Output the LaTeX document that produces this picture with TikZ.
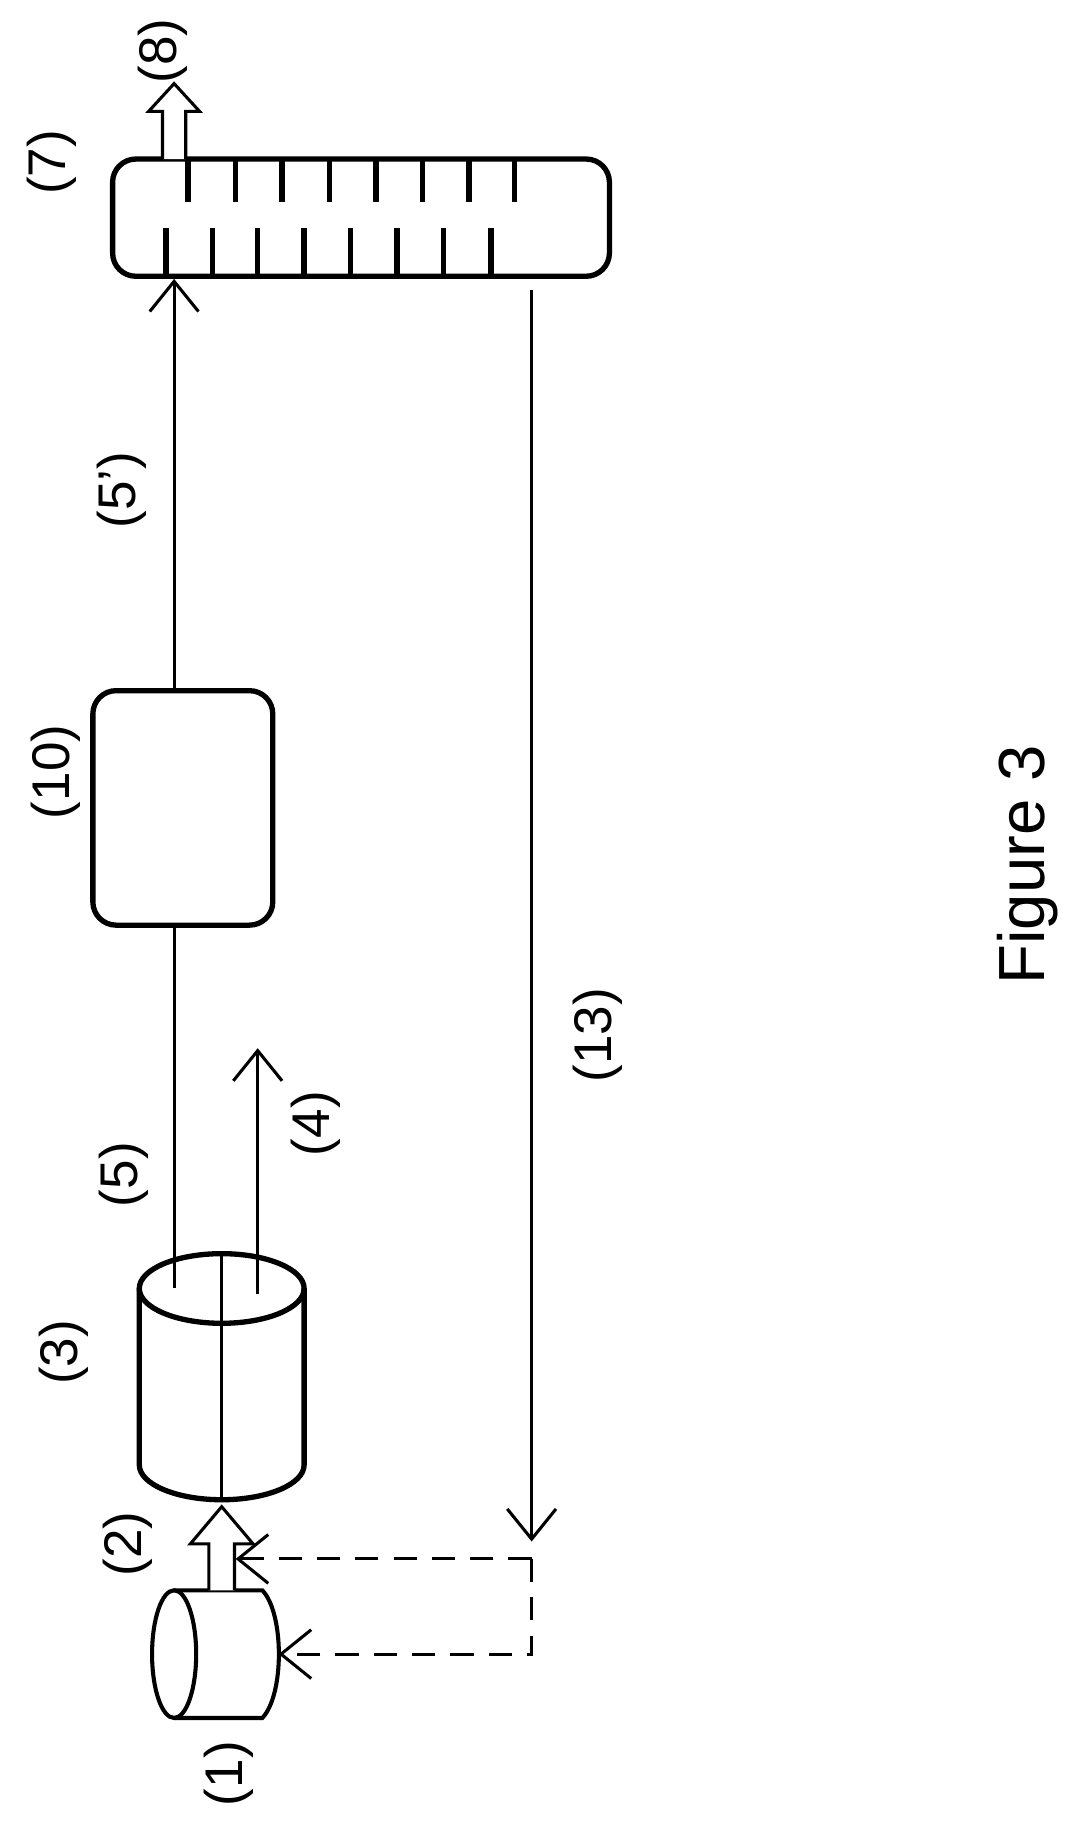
\documentclass[tikz,border=0pt]{standalone}
\usepackage{fontspec}
\setmainfont{Liberation Sans}
\usetikzlibrary{arrows.meta, positioning}
\tikzstyle{vessel} = [rectangle, rounded corners=2mm, draw, line width=1.3pt, inner sep=0pt]
\tikzstyle{lbl} = [rotate=90, font=\fontsize{13}{15}\selectfont]
\tikzstyle{flow} = [line width=0.75pt, -{Straight Barb[length=2.6mm,width=4.2mm]}]
\tikzstyle{recycle} = [line width=0.75pt, dash pattern=on 2mm off 1.3mm, -{Straight Barb[length=2.6mm,width=4.2mm]}]
\tikzstyle{bigarrow} = [line width=0.75pt, fill=white]

\begin{document}
\begin{tikzpicture}[x=0.1mm, y=-0.1mm]
\useasboundingbox (0,0) rectangle (940,1586);
%Column and pretreatment
\node (col) [vessel, minimum width=42.8mm, minimum height=10.1mm] at (311,187.5) {};
\node (pre) [vessel, minimum width=15.5mm, minimum height=20.2mm] at (157.5,696) {};
\foreach \x in {162,203,243,284,324,364,404,443} \draw [line width=1.3pt] (\x,137) -- (\x,174);
\foreach \x in {143,183,222,262,302,342,382,423} \draw [line width=1.3pt] (\x,238) -- (\x,196);
%Product outlet
\draw [bigarrow] (140,137) -- (140,96) -- (128,96) -- (150,72) -- (172,96) -- (160,96) -- (160,137);
%Reactor cylinder
\draw [line width=1.3pt] (120,1110) -- (120,1262) arc (180:0:71 and 30) -- (262,1110);
\draw [line width=1.3pt] (191,1110) ellipse (71 and 30);
\coordinate (rtop) at (150,1110);
\coordinate (rout) at (222,1115);
\coordinate (rin) at (191,1292);
\draw [line width=0.75pt] (191,1080) -- (rin);
\draw [line width=0.75pt] (rtop) -- (pre.south -| rtop);
\draw [flow] (pre.north -| rtop) -- (col.south -| rtop);
\coordinate (gas) at (222,903);
\draw [flow] (rout) -- (gas);
%Feed vessel
\draw [line width=1pt] (150,1370) -- (226,1370) .. controls (245,1390) and (245,1460) .. (226,1480) -- (150,1480);
\draw [line width=1pt] (150,1425) ellipse (19 and 55);
\coordinate (feed) at (191,1370);
\draw [bigarrow] (180,1370) -- (180,1330) -- (164,1330) -- (191,1298) -- (218,1330) -- (202,1330) -- (202,1370);
%Recycle
\coordinate (ret) at (458,250);
\coordinate (split) at (458,1343);
\draw [flow] (ret) -- (458,1328);
\draw [recycle] (split) -- (203,1343);
\draw [recycle] (split) -- (458,1425) -- (240,1425);
%Labels
\node [lbl] at (140,44) {(8)};
\node [lbl] at (45,140) {(7)};
\node [lbl] at (105,422) {(5’)};
\node [lbl] at (48,665) {(10)};
\node [lbl] at (515,892) {(13)};
\node [lbl] at (272,968) {(4)};
\node [lbl] at (107,1012) {(5)};
\node [lbl] at (55,1165) {(3)};
\node [lbl] at (110,1330) {(2)};
\node [lbl] at (197,1528) {(1)};
\node [rotate=90, font=\fontsize{16}{18}\selectfont] at (885,745) {Figure 3};
\end{tikzpicture}
\end{document}
